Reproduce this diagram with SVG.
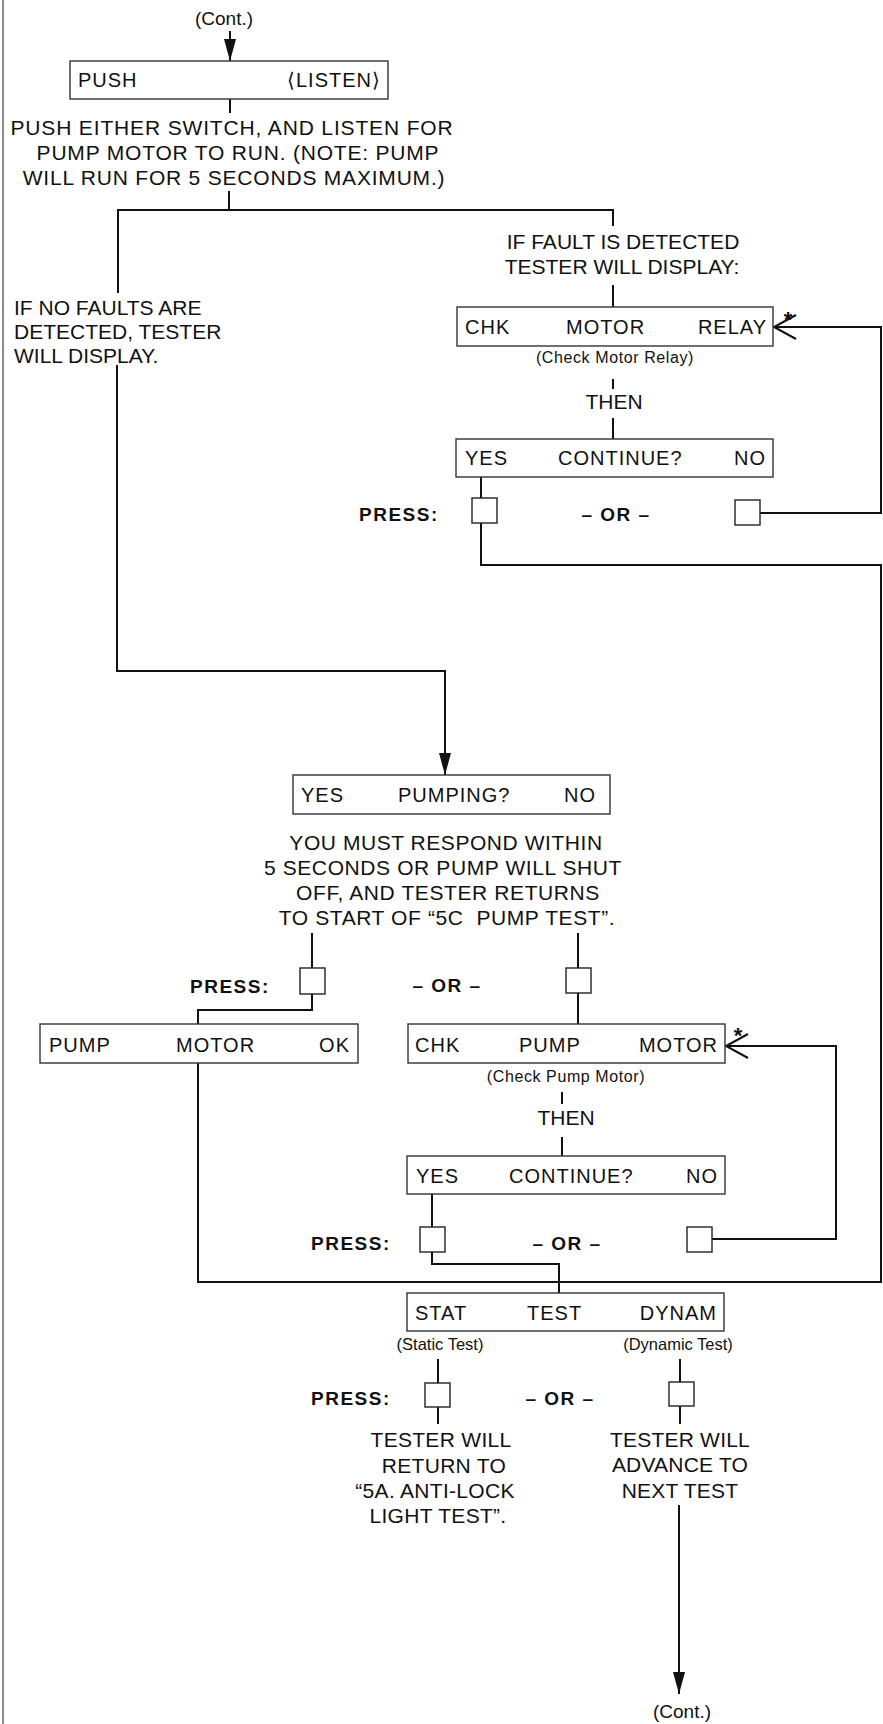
<svg xmlns="http://www.w3.org/2000/svg" width="883" height="1724" viewBox="0 0 883 1724">
<style>
text{font-family:"Liberation Sans",Arial,sans-serif;fill:#111}
.body{font-size:21px}
.bx{font-size:20px;letter-spacing:1px}
.small{font-size:16px;letter-spacing:0.6px}
.bold{font-size:19px;font-weight:bold;letter-spacing:1.5px}
.c{text-anchor:middle}
.e{text-anchor:end}
.box{fill:#fff;stroke:#333;stroke-width:1.4}
.key{fill:#fff;stroke:#222;stroke-width:1.4}
.ln{fill:none;stroke:#111;stroke-width:2}
.star{font-size:22px;font-weight:bold}
</style>
<defs>
<marker id="solid" markerUnits="userSpaceOnUse" markerWidth="22" markerHeight="12" refX="22" refY="6" orient="auto">
<path d="M0,0 L22,6 L0,12 z" fill="#111"/>
</marker>
<marker id="open" markerUnits="userSpaceOnUse" markerWidth="26" markerHeight="28" refX="23" refY="14" orient="auto">
<path d="M1,2 L23,14 L1,26" fill="none" stroke="#111" stroke-width="2"/>
</marker>
</defs>
<rect x="0" y="0" width="883" height="1724" fill="#fff"/>
<line x1="3" y1="0" x2="3" y2="1724" stroke="#666" stroke-width="1.5"/>

<g id="connectors">
<path class="ln" d="M230,31 V61" marker-end="url(#solid)"/>
<path class="ln" d="M230,99 V113"/>
<path class="ln" d="M229,191 V210"/>
<path class="ln" d="M118,293 V210 H613 V226"/>
<path class="ln" d="M613,285 V307"/>
<path class="ln" d="M613,379 V389"/>
<path class="ln" d="M613,418 V439"/>
<path class="ln" d="M481,477 V498"/>
<path class="ln" d="M760,513 H881 V327 H774" marker-end="url(#open)"/>
<path class="ln" d="M481,523 V565 H881 V1282 H198 V1063"/>
<path class="ln" d="M117,365 V671 H445 V775" marker-end="url(#solid)"/>
<path class="ln" d="M312,933 V968"/>
<path class="ln" d="M578,933 V968"/>
<path class="ln" d="M312,994 V1010 H198 V1024"/>
<path class="ln" d="M578,993 V1024"/>
<path class="ln" d="M562,1092 V1104"/>
<path class="ln" d="M562,1137 V1156"/>
<path class="ln" d="M712,1239 H836 V1046 H726" marker-end="url(#open)"/>
<path class="ln" d="M432,1194 V1227"/>
<path class="ln" d="M432,1252 V1264 H559 V1293"/>
<path class="ln" d="M438,1359 V1383"/>
<path class="ln" d="M680,1359 V1383"/>
<path class="ln" d="M438,1407 V1424"/>
<path class="ln" d="M680,1406 V1424"/>
<path class="ln" d="M679,1505 V1694" marker-end="url(#solid)"/>
</g>

<g id="cont-top">
<text x="224" y="25" class="c" font-size="19">(Cont.)</text>
</g>

<g id="push-listen">
<rect class="box" x="70" y="61" width="318" height="38"/>
<text class="bx" x="78" y="87">PUSH</text>
<text class="bx e" x="381" y="87">⟨LISTEN⟩</text>
</g>

<g id="push-note">
<text class="body c" x="232" y="135" letter-spacing="0.85">PUSH EITHER SWITCH, AND LISTEN FOR</text>
<text class="body c" x="238" y="160" letter-spacing="0.8">PUMP MOTOR TO RUN. (NOTE: PUMP</text>
<text class="body c" x="234" y="185" letter-spacing="0.8">WILL RUN FOR 5 SECONDS MAXIMUM.)</text>
</g>

<g id="no-faults-note">
<text class="body" x="14" y="315">IF NO FAULTS ARE</text>
<text class="body" x="14" y="339">DETECTED, TESTER</text>
<text class="body" x="14" y="363">WILL DISPLAY.</text>
</g>

<g id="fault-note">
<text class="body c" x="623" y="249">IF FAULT IS DETECTED</text>
<text class="body c" x="622" y="274">TESTER WILL DISPLAY:</text>
</g>

<g id="chk-motor-relay">
<rect class="box" x="457" y="307" width="316" height="39"/>
<text class="bx" x="465" y="334">CHK</text>
<text class="bx" x="566" y="334">MOTOR</text>
<text class="bx e" x="767" y="334">RELAY</text>
<text class="star c" x="788" y="327">*</text>
<text class="small c" x="615" y="363">(Check Motor Relay)</text>
<text class="body c" x="614" y="409" font-size="20">THEN</text>
</g>

<g id="continue-1">
<rect class="box" x="456" y="439" width="317" height="38"/>
<text class="bx" x="465" y="465">YES</text>
<text class="bx" x="558" y="465">CONTINUE?</text>
<text class="bx e" x="766" y="465">NO</text>
</g>

<g id="press-1">
<text class="bold" x="359" y="521">PRESS:</text>
<rect class="key" x="472" y="498" width="25" height="25"/>
<text class="bold c" x="616" y="521">– OR –</text>
<rect class="key" x="735" y="500" width="25" height="25"/>
</g>

<g id="pumping">
<rect class="box" x="293" y="775" width="317" height="39"/>
<text class="bx" x="301" y="802">YES</text>
<text class="bx" x="398" y="802">PUMPING?</text>
<text class="bx e" x="596" y="802">NO</text>
</g>

<g id="respond-note">
<text class="body c" x="446" y="850" letter-spacing="0.55">YOU MUST RESPOND WITHIN</text>
<text class="body c" x="443" y="875" letter-spacing="0.6">5 SECONDS OR PUMP WILL SHUT</text>
<text class="body c" x="448" y="900" letter-spacing="0.6">OFF, AND TESTER RETURNS</text>
<text class="body c" x="447" y="925" letter-spacing="0.6" xml:space="preserve">TO START OF “5C  PUMP TEST”.</text>
</g>

<g id="press-2">
<text class="bold" x="190" y="993">PRESS:</text>
<rect class="key" x="300" y="968" width="25" height="26"/>
<text class="bold c" x="447" y="992">– OR –</text>
<rect class="key" x="566" y="968" width="25" height="25"/>
</g>

<g id="pump-motor-ok">
<rect class="box" x="40" y="1024" width="318" height="39"/>
<text class="bx" x="49" y="1052">PUMP</text>
<text class="bx" x="176" y="1052">MOTOR</text>
<text class="bx e" x="350" y="1052">OK</text>
</g>

<g id="chk-pump-motor">
<rect class="box" x="408" y="1024" width="317" height="39"/>
<text class="bx" x="415" y="1052">CHK</text>
<text class="bx" x="519" y="1052">PUMP</text>
<text class="bx e" x="718" y="1052">MOTOR</text>
<text class="star c" x="738" y="1043">*</text>
<text class="small c" x="566" y="1082">(Check Pump Motor)</text>
<text class="body c" x="566" y="1125" font-size="20">THEN</text>
</g>

<g id="continue-2">
<rect class="box" x="407" y="1156" width="318" height="38"/>
<text class="bx" x="416" y="1183">YES</text>
<text class="bx" x="509" y="1183">CONTINUE?</text>
<text class="bx e" x="718" y="1183">NO</text>
</g>

<g id="press-3">
<text class="bold" x="311" y="1250">PRESS:</text>
<rect class="key" x="420" y="1227" width="25" height="25"/>
<text class="bold c" x="567" y="1250">– OR –</text>
<rect class="key" x="687" y="1227" width="25" height="25"/>
</g>

<g id="stat-test-dynam">
<rect class="box" x="407" y="1293" width="317" height="38"/>
<text class="bx" x="415" y="1320">STAT</text>
<text class="bx" x="527" y="1320">TEST</text>
<text class="bx e" x="717" y="1320">DYNAM</text>
<text class="c" x="440" y="1350" font-size="16.5">(Static Test)</text>
<text class="c" x="678" y="1350" font-size="16.5">(Dynamic Test)</text>
</g>

<g id="press-4">
<text class="bold" x="311" y="1405">PRESS:</text>
<rect class="key" x="425" y="1383" width="25" height="24"/>
<text class="bold c" x="560" y="1405">– OR –</text>
<rect class="key" x="669" y="1382" width="25" height="24"/>
</g>

<g id="static-result">
<text class="body c" x="441" y="1447" letter-spacing="0.3">TESTER WILL</text>
<text class="body c" x="444" y="1473" letter-spacing="0.3">RETURN TO</text>
<text class="body c" x="435" y="1498" letter-spacing="0.3">“5A. ANTI-LOCK</text>
<text class="body c" x="438" y="1523" letter-spacing="0.3">LIGHT TEST”.</text>
</g>

<g id="dynamic-result">
<text class="body c" x="680" y="1447" letter-spacing="0.2">TESTER WILL</text>
<text class="body c" x="680" y="1472" letter-spacing="0.2">ADVANCE TO</text>
<text class="body c" x="680" y="1498" letter-spacing="0.2">NEXT TEST</text>
</g>

<g id="cont-bottom">
<text x="682" y="1718" class="c" font-size="19">(Cont.)</text>
</g>
</svg>
